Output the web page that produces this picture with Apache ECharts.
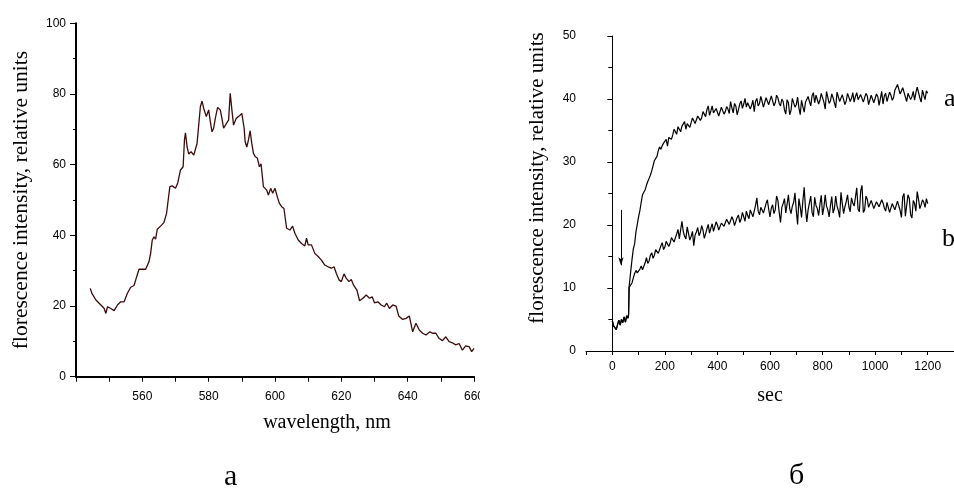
<!DOCTYPE html>
<html>
<head>
<meta charset="utf-8">
<script src="https://cdn.jsdelivr.net/npm/echarts@6/dist/echarts.min.js"></script>
<style>
  html, body { margin: 0; padding: 0; background: #fff; }
  #wrap { position: relative; width: 954px; height: 491px; }
  #left { position: absolute; left: 0; top: 0; width: 480px; height: 491px; }
  #right { position: absolute; left: 480px; top: 0; width: 474px; height: 491px; }
</style>
</head>
<body>
<div id="wrap"><div id="left"></div><div id="right"></div></div>
<script>
// ---------- Panel a: emission spectrum ----------
const wavelength = [544.3,544.8,545,546,546.5,547.5,548.5,549,549.5,550.5,551.5,552.5,553.5,554.5,555.5,556.5,557.5,558.3,559,560,561,562,562.5,563,563.5,564,564.5,565.5,566.5,567.3,567.8,568.3,569,570,570.7,571.5,572.3,572.7,573,573.5,574,574.7,575.5,576.5,577,577.5,578,578.5,579.3,580,580.5,581,581.5,582,582.7,583.5,584,584.5,585.5,586,586.5,587,587.5,588.3,589,590,590.7,591,591.5,592,592.5,593,593.5,594,594.7,595.3,595.8,596.5,597.5,598,598.7,599.3,600,600.7,601.3,602,602.7,603.5,604.5,605.3,606,607,608,609,609.5,610,611,612,613,614,615,616,617,617.8,618.5,619.3,620,620.8,621.5,622.3,623,623.7,624.7,625.5,626.5,627.5,628.5,629.3,630,631,632,633,633.7,634.5,635.5,636.5,637.3,638.5,639.5,640.5,641.5,642.5,643.5,644.5,645.5,646.7,647.5,648.5,649.5,650.5,651.5,652.5,653.5,654.5,655.5,656.5,657.5,658.5,659.3,660];
const intensity = [25.0,23.6,23.1,21.7,22.0,20.3,19.3,17.9,19.8,19.3,18.7,20.3,21.2,21.2,23.6,25.3,25.8,28.3,30.4,30.4,30.4,32.5,34.9,38.7,39.6,38.9,41.7,42.6,43.6,46.2,50.0,53.8,54.0,53.3,54.9,58.5,59.4,67.0,69.0,65.0,63.0,63.7,62.7,66.0,66.0,76.4,78.0,75.9,73.6,75.5,72.2,69.3,70.3,73.1,76.2,75.5,73.1,70.3,71.9,72.6,80.2,75.5,71.2,73.1,73.6,74.5,70.3,66.5,65.0,67.0,69.6,66.0,63.2,62.3,61.8,59.4,60.2,53.8,52.8,51.4,53.3,51.9,53.3,50.9,49.1,48.1,47.6,42.0,41.5,42.6,40.6,38.7,37.7,37.0,39.2,37.3,37.3,34.9,34.0,33.0,31.6,31.1,30.7,31.1,29.2,27.4,26.9,29.1,27.8,26.9,27.5,25.9,24.5,21.5,22.2,23.1,22.2,22.6,20.9,21.2,20.3,19.8,20.8,19.3,20.3,20.0,17.2,16.2,16.5,17.2,12.7,15.1,13.2,12.3,11.8,12.7,12.3,12.3,10.8,10.2,11.3,9.9,9.6,9.0,9.4,7.5,8.7,8.5,7.1,8.0];
const spectrumXTicks = { min: 540, max: 660, step: 20 };
const spectrumYTicks = { min: 0, max: 100, step: 20 };

// ---------- Panel б: kinetics ----------
const timeSec = [0,5,10,15,20,25,30,35,40,45,50,55,60,62,64,
  70,75,80,85,90,95,100,105,110,115,120,125,130,135,140,145,150,155,160,165,
  170,175,180,185,190,195,200,205,210,215,220,225,230,235,240,245,250,255,260,265,
  270,275,280,285,290,295,300,305,310,315,320,325,330,335,340,345,350,355,360,365,
  370,375,380,385,390,395,400,405,410,415,420,425,430,435,440,445,450,455,460,465,
  470,475,480,485,490,495,500,505,510,515,520,525,530,535,540,545,550,555,560,565,
  570,575,580,585,590,595,600,605,610,615,620,625,630,635,640,645,650,655,660,665,
  670,675,680,685,690,695,700,705,710,715,720,725,730,735,740,745,750,755,760,765,
  770,775,780,785,790,795,800,805,810,815,820,825,830,835,840,845,850,855,860,865,
  870,875,880,885,890,895,900,905,910,915,920,925,930,935,940,945,950,955,960,965,
  970,975,980,985,990,995,1000,1005,1010,1015,1020,1025,1030,1035,1040,1045,1050,1055,1060,1065,
  1070,1075,1080,1085,1090,1095,1100,1105,1110,1115,1120,1125,1130,1135,1140,1145,1150,1155,1160,1165,
  1170,1175,1180,1185,1190,1195,1200];
const baseline = [4.8,4.0,3.7,3.4,4.2,4.9,4.1,5.0,4.5,5.4,4.6,5.6,5.2,5.8];
const curveA = [...baseline, 10.2,
  12.6,14.5,16.2,17.0,18.9,20.1,21.3,22.3,23.6,24.8,
  25.2,25.6,26.3,26.9,27.4,27.9,28.6,29.4,30.2,30.1,
  30.9,31.8,32.4,32.0,32.6,33.0,33.1,33.6,32.5,33.9,
  34.0,33.6,34.3,35.2,34.9,34.4,35.6,35.9,34.8,35.7,
  35.9,36.4,35.2,36.1,36.3,35.5,35.8,37.0,36.9,36.1,
  36.4,37.3,37.4,36.6,37.0,38.0,37.9,37.2,38.3,38.9,
  37.4,38.1,38.9,37.8,37.6,38.5,38.2,37.3,37.5,38.7,
  38.6,37.6,38.0,38.8,38.4,37.7,39.6,38.6,37.8,39.3,
  38.9,37.5,38.3,39.2,39.7,38.5,39.2,40.1,38.7,39.4,
  39.5,38.4,39.0,39.8,38.0,39.6,40.1,38.9,39.3,40.4,
  39.6,38.7,38.8,40.2,40.3,39.1,39.0,40.5,39.7,38.9,
  39.4,40.6,40.2,39.3,38.9,40.0,39.6,38.3,37.6,39.9,
  39.4,37.5,38.2,40.1,40.4,38.7,39.1,40.3,38.6,37.5,
  39.8,38.8,37.9,39.5,39.2,40.4,39.6,38.9,40.5,41.0,
  39.4,40.6,40.3,39.2,39.8,40.9,40.6,39.5,38.4,41.2,
  40.9,39.3,39.7,40.8,40.2,39.4,38.6,41.1,40.8,39.6,
  39.9,40.7,40.4,39.1,39.7,40.9,40.3,39.6,40.1,41.0,
  39.5,40.4,41.0,39.9,39.8,40.7,40.4,39.5,39.6,40.9,
  40.5,39.1,39.3,40.6,40.8,39.4,39.7,40.8,40.4,39.0,
  40.1,41.2,39.2,40.5,40.9,39.6,39.9,41.1,40.6,39.8,
  40.2,41.4,41.3,42.3,42.1,40.8,40.5,41.8,41.6,40.3,
  39.6,40.9,41.0,39.9,40.4,41.2,39.8,41.0,41.9,42.2,
  40.2,39.5,41.4,40.6,39.9,41.3,40.9];
const curveB = [...baseline, 10.1,
  10.4,10.8,11.6,12.3,12.8,12.4,12.2,13.0,13.5,12.9,
  13.1,14.0,14.8,13.9,14.3,15.2,15.6,14.7,15.2,16.1,
  16.4,15.5,15.8,16.7,17.2,16.1,16.5,17.4,17.6,16.6,
  17.1,18.0,18.2,17.3,17.6,18.6,19.3,17.8,18.1,20.6,
  19.0,18.2,17.8,19.7,19.5,17.6,18.2,19.0,16.7,18.4,
  18.9,19.6,18.3,18.8,19.9,19.2,17.9,18.6,19.4,20.1,
  18.7,19.5,20.2,19.0,19.1,20.5,20.0,19.2,19.4,20.3,
  20.6,19.8,19.6,20.9,21.0,20.1,20.2,21.3,20.8,19.9,
  20.1,21.2,21.6,20.4,20.9,22.0,21.7,20.6,22.2,21.5,
  21.0,22.4,22.6,21.3,21.4,23.1,24.3,22.2,21.6,22.8,
  23.1,21.9,22.0,23.4,24.0,22.5,21.3,22.7,23.2,21.8,
  22.4,24.6,23.9,22.0,20.4,22.8,23.4,24.2,21.9,23.3,
  24.8,22.6,21.8,23.0,23.6,25.1,22.3,20.1,24.2,22.9,
  21.2,23.8,26.0,22.6,20.5,22.4,23.5,24.6,22.0,21.3,
  24.4,23.1,22.6,21.5,23.3,24.7,21.6,22.8,24.8,23.0,
  22.4,21.3,23.1,24.5,21.9,22.6,24.6,23.0,22.3,21.2,
  25.2,23.4,21.8,22.9,23.7,24.8,22.9,22.1,24.3,23.5,
  23.0,24.4,25.9,22.5,22.1,25.4,26.3,22.0,22.4,24.6,
  24.1,22.8,22.7,23.9,23.8,22.6,22.5,23.7,23.9,22.9,
  22.8,24.0,23.5,22.7,22.2,23.6,23.7,22.0,21.9,23.4,
  23.2,22.4,22.5,23.8,24.1,22.3,21.2,24.5,25.0,21.4,
  21.5,24.8,24.2,21.6,21.1,23.9,23.4,22.2,25.3,24.1,
  22.6,23.2,24.0,23.6,22.8,24.2,23.4];
const arrowMark = { t: 33, from: 22.4, to: 13.6 };
const kineticsXTicks = { min: -100, max: 1300, step: 100, labelStep: 200, labelMax: 1200 };
const kineticsYTicks = { min: 0, max: 50, step: 10 };
const curveLabels = ['a', 'b'];
const panelCaptions = ['a', 'б'];

const sans = 'Liberation Sans';
const serif = 'Liberation Serif';

function pairs(xs, ys) { return xs.map((x, i) => [x, ys[i]]); }

// ---- left chart ----
const left = echarts.init(document.getElementById('left'), null, { renderer: 'canvas' });
left.setOption({
  animation: false,
  backgroundColor: '#fff',
  grid: { left: 76, top: 23.3, right: 6, bottom: 114.3, containLabel: false, outerBoundsMode: 'none' },
  xAxis: {
    type: 'value', min: spectrumXTicks.min, max: spectrumXTicks.max, interval: spectrumXTicks.step,
    name: 'wavelength, nm', nameLocation: 'middle', nameGap: 36,
    nameTextStyle: { fontFamily: serif, fontSize: 20, color: '#000', padding: [0, 0, 0, 104] },
    axisLine: { onZero: false, lineStyle: { color: '#000', width: 2 } },
    axisTick: { show: true, inside: false, length: 5, lineStyle: { color: '#000', width: 1 } },
    minorTick: { show: true, splitNumber: 2, length: 5, lineStyle: { color: '#000', width: 1 } },
    axisLabel: { showMinLabel: false, alignMaxLabel: 'center', hideOverlap: false, margin: 14, fontFamily: sans, fontSize: 12, color: '#000' },
    splitLine: { show: false }
  },
  yAxis: {
    type: 'value', min: spectrumYTicks.min, max: spectrumYTicks.max, interval: spectrumYTicks.step,
    name: 'florescence intensity, relative units', nameLocation: 'middle', nameGap: 44, nameRotate: 90,
    nameTextStyle: { fontFamily: serif, fontSize: 21.5, color: '#000' },
    axisLine: { lineStyle: { color: '#000', width: 2 } },
    axisTick: { show: true, length: 6, lineStyle: { color: '#000', width: 1 } },
    minorTick: { show: true, splitNumber: 2, length: 3, lineStyle: { color: '#000', width: 1 } },
    axisLabel: { margin: 10, fontFamily: sans, fontSize: 12, color: '#000' },
    splitLine: { show: false }
  },
  graphic: [{
    type: 'text', left: 232 - 8, top: 462,
    style: { text: panelCaptions[0], font: '30px "Liberation Serif"', fill: '#000' }
  }],
  series: [{
    type: 'line', data: pairs(wavelength, intensity), showSymbol: false, symbol: 'none',
    lineStyle: { color: '#3d0b0b', width: 1.3 }, silent: true
  }]
});

// ---- right chart ----
const right = echarts.init(document.getElementById('right'), null, { renderer: 'canvas' });
right.setOption({
  animation: false,
  backgroundColor: '#fff',
  grid: { left: 106, top: 36, right: 0, bottom: 140, containLabel: false, outerBoundsMode: 'none' },
  xAxis: {
    type: 'value', min: kineticsXTicks.min, max: kineticsXTicks.max, interval: kineticsXTicks.step,
    name: 'sec', nameLocation: 'middle', nameGap: 35,
    nameTextStyle: { fontFamily: serif, fontSize: 20, color: '#000' },
    axisLine: { onZero: false, lineStyle: { color: '#000', width: 1 } },
    axisTick: { show: true, length: 4, lineStyle: { color: '#000', width: 1 } },
    axisLabel: {
      margin: 10, fontFamily: sans, fontSize: 12, color: '#000',
      formatter: v => (v >= 0 && v <= kineticsXTicks.labelMax && v % kineticsXTicks.labelStep === 0) ? String(v) : ''
    },
    splitLine: { show: false }
  },
  yAxis: {
    type: 'value', min: kineticsYTicks.min, max: kineticsYTicks.max, interval: kineticsYTicks.step,
    name: 'florescence intensity, relative units', nameLocation: 'middle', nameGap: 38, nameRotate: 90,
    nameTextStyle: { fontFamily: serif, fontSize: 21, color: '#000', padding: [0, 0, 0, 31] },
    axisLine: { lineStyle: { color: '#000', width: 1 } },
    axisTick: { show: true, length: 5, lineStyle: { color: '#000', width: 1 } },
    minorTick: { show: true, splitNumber: 2, length: 4, lineStyle: { color: '#000', width: 1 } },
    axisLabel: { margin: 10, fontFamily: sans, fontSize: 12, color: '#000' },
    splitLine: { show: false }
  },
  graphic: [
    { type: 'text', left: 464, top: 86, style: { text: curveLabels[0], font: '26px "Liberation Serif"', fill: '#000' } },
    { type: 'text', left: 462, top: 226, style: { text: curveLabels[1], font: '26px "Liberation Serif"', fill: '#000' } },
    { type: 'text', left: 317 - 8, top: 461, style: { text: panelCaptions[1], font: '30px "Liberation Serif"', fill: '#000' } }
  ],
  series: [
    {
      type: 'line', data: pairs(timeSec, curveA), showSymbol: false, symbol: 'none',
      lineStyle: { color: '#000', width: 1.2 }, silent: true,
      markLine: {
        silent: true, symbol: ['none', 'arrow'], symbolSize: [4, 8],
        label: { show: false },
        lineStyle: { color: '#000', width: 1, type: 'solid' },
        data: [[{ coord: [arrowMark.t, arrowMark.from] }, { coord: [arrowMark.t, arrowMark.to] }]]
      }
    },
    {
      type: 'line', data: pairs(timeSec, curveB), showSymbol: false, symbol: 'none',
      lineStyle: { color: '#000', width: 1.2 }, silent: true
    }
  ]
});
</script>
</body>
</html>
